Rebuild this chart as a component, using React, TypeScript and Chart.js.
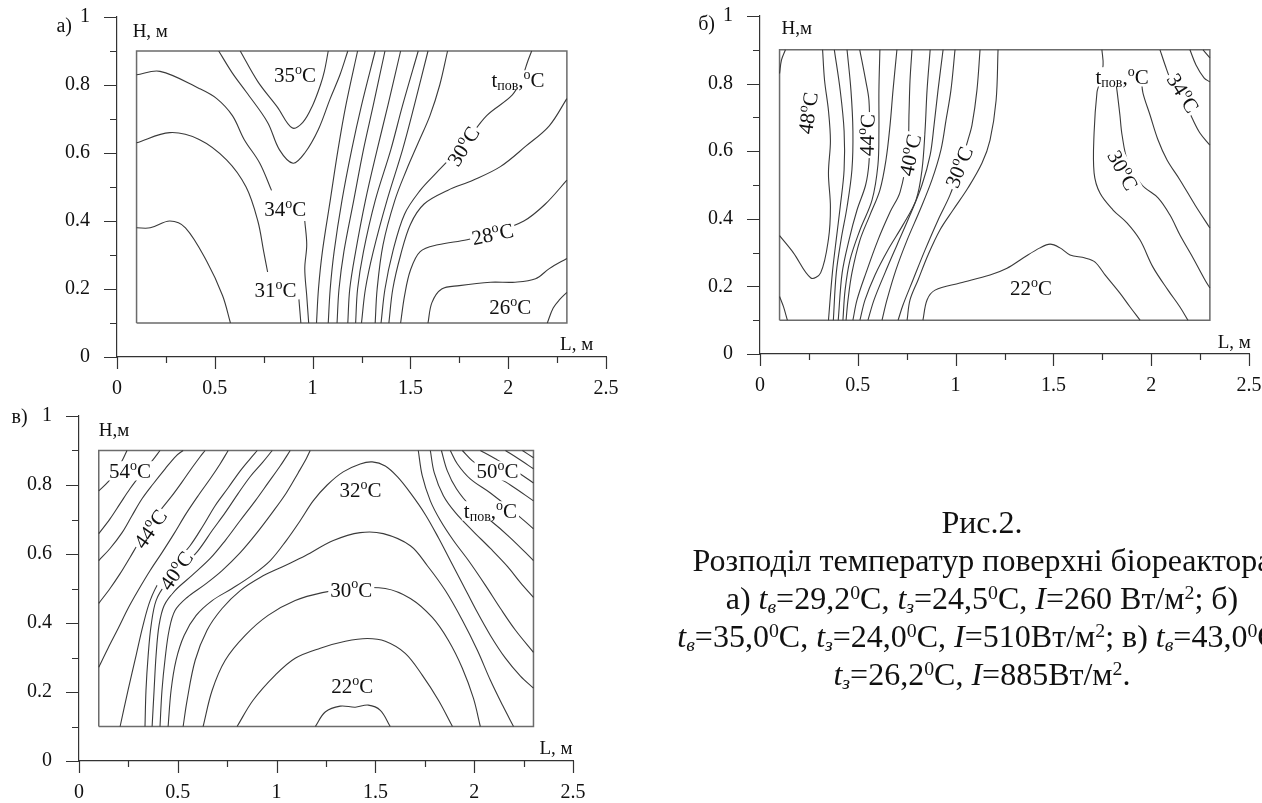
import React, { useEffect, useRef } from 'react';
import { Chart, registerables } from 'chart.js';
Chart.register(...registerables);

type P = [number, number];
type Seg = { t: string; k?: 'sup' | 'sub' };
type Lab = { segs: Seg[]; at: P; rot?: number; box?: boolean; align?: 'left' | 'center' | 'right'; size?: number };

// ---------- axis ticks ----------
const X_MAJOR = [0, 0.5, 1, 1.5, 2, 2.5];
const X_MINOR = [0.25, 0.75, 1.25, 1.75, 2.25];
const Y_MAJOR = [0, 0.2, 0.4, 0.6, 0.8, 1];
const Y_MINOR = [0.1, 0.3, 0.5, 0.7, 0.9];
const BOX_L = [0.1, 2.3];
const BOX_H = [0.1, 0.9];

// ---------- panel а ----------
const A_C1A: P[] = [[0.10,0.83],[0.22,0.84],[0.42,0.79],[0.51,0.76],[0.59,0.71],[0.65,0.64],[0.73,0.57],[0.79,0.49]];
const A_C1B: P[] = [[0.96,0.40],[0.97,0.33],[0.96,0.26],[0.97,0.18],[0.98,0.10]];
const A_C2A: P[] = [[0.10,0.63],[0.27,0.66],[0.42,0.64],[0.56,0.58],[0.66,0.50],[0.72,0.40],[0.75,0.31],[0.77,0.25]];
const A_C2B: P[] = [[0.93,0.17],[0.94,0.10]];
const A_C3: P[] = [[0.10,0.38],[0.17,0.38],[0.27,0.40],[0.35,0.38],[0.46,0.28],[0.54,0.18],[0.58,0.10]];
const A_VB: P[] = [[0.52,0.90],[0.59,0.835],[0.66,0.78],[0.77,0.69],[0.83,0.61],[0.90,0.57],[0.96,0.60],[1.03,0.67],[1.09,0.76],[1.14,0.83],[1.18,0.90]];
const A_VA: P[] = [[0.63,0.90],[0.72,0.81],[0.82,0.735],[0.895,0.674],[0.95,0.69],[1.00,0.74],[1.04,0.80],[1.06,0.84],[1.08,0.90]];
const A_B1: P[] = [[1.02,0.10],[1.03,0.20],[1.05,0.31],[1.09,0.46],[1.13,0.61],[1.17,0.74],[1.23,0.90]];
const A_B2: P[] = [[1.08,0.10],[1.09,0.20],[1.11,0.31],[1.15,0.46],[1.20,0.61],[1.25,0.74],[1.32,0.90]];
const A_B3: P[] = [[1.125,0.10],[1.135,0.20],[1.16,0.31],[1.21,0.46],[1.26,0.61],[1.31,0.74],[1.37,0.90]];
const A_B4: P[] = [[1.18,0.10],[1.19,0.20],[1.22,0.31],[1.27,0.46],[1.33,0.61],[1.385,0.74],[1.45,0.90]];
const A_B5: P[] = [[1.22,0.10],[1.23,0.20],[1.26,0.31],[1.32,0.46],[1.40,0.61],[1.46,0.74],[1.54,0.90]];
const A_B6: P[] = [[1.25,0.10],[1.27,0.20],[1.31,0.31],[1.38,0.46],[1.46,0.61],[1.52,0.74],[1.59,0.90]];
const A_B7: P[] = [[1.32,0.10],[1.33,0.20],[1.36,0.33],[1.42,0.46],[1.48,0.55],[1.54,0.63],[1.60,0.71],[1.65,0.80],[1.69,0.90]];
const A_C30: P[] = [[1.35,0.10],[1.37,0.20],[1.41,0.31],[1.47,0.42],[1.55,0.49],[1.63,0.54],[1.68,0.57],[1.78,0.63],[1.89,0.71],[2.02,0.77],[2.07,0.82],[2.10,0.87],[2.12,0.90]];
const A_RB: P[] = [[1.39,0.10],[1.41,0.20],[1.45,0.30],[1.50,0.39],[1.57,0.45],[1.69,0.49],[1.82,0.52],[1.96,0.56],[2.09,0.62],[2.21,0.68],[2.30,0.76]];
const A_RA: P[] = [[1.45,0.10],[1.47,0.18],[1.50,0.255],[1.55,0.31],[1.64,0.33],[1.79,0.345],[1.92,0.365],[2.08,0.40],[2.19,0.45],[2.30,0.52]];
const A_R26: P[] = [[1.59,0.10],[1.61,0.16],[1.66,0.20],[1.75,0.21],[1.91,0.22],[2.035,0.22],[2.14,0.23],[2.21,0.26],[2.30,0.29]];
const A_R25: P[] = [[2.20,0.10],[2.23,0.144],[2.265,0.17],[2.30,0.19]];

// ---------- panel б ----------
const B_TL: P[] = [[0.10,0.83],[0.11,0.87],[0.13,0.90]];
const B_BL: P[] = [[0.10,0.17],[0.12,0.14],[0.14,0.10]];
const B_LOBE: P[] = [[0.10,0.35],[0.17,0.30],[0.26,0.225],[0.31,0.24],[0.35,0.34],[0.36,0.435],[0.35,0.535],[0.36,0.63],[0.35,0.72],[0.33,0.81],[0.32,0.90]];
const B_G1: P[] = [[0.38,0.90],[0.41,0.78],[0.43,0.66],[0.43,0.545],[0.41,0.435],[0.39,0.34],[0.37,0.24],[0.35,0.10]];
const B_G2: P[] = [[0.445,0.90],[0.465,0.78],[0.475,0.66],[0.47,0.545],[0.445,0.435],[0.415,0.34],[0.39,0.24],[0.375,0.10]];
const B_G3: P[] = [[0.51,0.90],[0.54,0.81],[0.557,0.75],[0.56,0.65],[0.557,0.565],[0.54,0.50],[0.496,0.426],[0.455,0.337],[0.42,0.24],[0.40,0.10]];
const B_G4: P[] = [[0.613,0.90],[0.608,0.78],[0.608,0.66],[0.603,0.56],[0.573,0.456],[0.511,0.367],[0.46,0.278],[0.435,0.189],[0.424,0.10]];
const B_G5: P[] = [[0.70,0.90],[0.68,0.78],[0.665,0.678],[0.644,0.574],[0.613,0.485],[0.562,0.411],[0.511,0.337],[0.47,0.24],[0.45,0.16],[0.44,0.10]];
const B_G6: P[] = [[0.777,0.90],[0.767,0.81],[0.762,0.716],[0.755,0.60],[0.716,0.479],[0.665,0.42],[0.603,0.337],[0.542,0.24],[0.496,0.16],[0.475,0.10]];
const B_G7: P[] = [[0.87,0.90],[0.854,0.78],[0.844,0.663],[0.828,0.544],[0.798,0.456],[0.731,0.382],[0.654,0.308],[0.588,0.234],[0.537,0.16],[0.511,0.10]];
const B_G8: P[] = [[0.936,0.90],[0.91,0.78],[0.89,0.678],[0.87,0.589],[0.828,0.50],[0.767,0.411],[0.70,0.322],[0.639,0.24],[0.583,0.16],[0.552,0.10]];
const B_G9: P[] = [[0.997,0.90],[0.976,0.78],[0.951,0.692],[0.925,0.604],[0.879,0.515],[0.818,0.426],[0.752,0.337],[0.695,0.249],[0.649,0.16],[0.624,0.10]];
const B_G10: P[] = [[1.125,0.90],[1.109,0.78],[1.084,0.678],[1.063,0.633],[1.02,0.55],[0.971,0.47],[0.91,0.396],[0.844,0.308],[0.782,0.219],[0.731,0.145],[0.706,0.10]];
const B_G11: P[] = [[1.217,0.90],[1.207,0.75],[1.176,0.633],[1.135,0.565],[1.063,0.491],[0.987,0.426],[0.92,0.367],[0.859,0.293],[0.808,0.219],[0.767,0.16],[0.752,0.10]];
const B_22: P[] = [[0.833,0.10],[0.854,0.16],[0.895,0.189],[1.022,0.21],[1.176,0.234],[1.263,0.254],[1.345,0.284],[1.431,0.314],[1.483,0.325],[1.534,0.314],[1.585,0.293],[1.662,0.284],[1.713,0.272],[1.764,0.234],[1.84,0.18],[1.892,0.139],[1.943,0.10]];
const B_R1: P[] = [[1.748,0.90],[1.754,0.855],[1.735,0.80],[1.723,0.775],[1.708,0.654],[1.708,0.536],[1.738,0.476],[1.805,0.426],[1.876,0.388],[1.943,0.337],[2.009,0.257],[2.086,0.189],[2.147,0.139],[2.188,0.10]];
const B_R2: P[] = [[1.815,0.82],[1.825,0.78],[1.84,0.707],[1.851,0.648],[1.88,0.57],[1.953,0.50],[2.035,0.462],[2.096,0.411],[2.147,0.352],[2.214,0.284],[2.275,0.219],[2.30,0.195]];
const B_R3: P[] = [[1.95,0.81],[1.958,0.772],[1.994,0.707],[2.035,0.633],[2.081,0.574],[2.147,0.515],[2.224,0.441],[2.30,0.373]];
const B_R4: P[] = [[2.045,0.90],[2.071,0.855],[2.096,0.817],[2.16,0.76],[2.214,0.692],[2.249,0.654],[2.30,0.618]];
const B_R5: P[] = [[2.198,0.90],[2.229,0.855],[2.27,0.817],[2.30,0.805]];
const B_R6: P[] = [[2.265,0.90],[2.30,0.876]];

// ---------- panel в ----------
const C_E1: P[] = [[0.10,0.783],[0.147,0.809],[0.187,0.841],[0.218,0.87],[0.243,0.90]];
const C_E2: P[] = [[0.10,0.659],[0.157,0.702],[0.208,0.746],[0.258,0.789],[0.319,0.835],[0.37,0.87],[0.41,0.90]];
const C_E3: P[] = [[0.10,0.581],[0.157,0.616],[0.218,0.662],[0.268,0.711],[0.319,0.76],[0.375,0.803],[0.436,0.847],[0.491,0.884],[0.527,0.90]];
const C_E4: P[] = [[0.10,0.457],[0.157,0.50],[0.208,0.543],[0.258,0.59],[0.309,0.639],[0.36,0.682],[0.41,0.725],[0.471,0.769],[0.522,0.809],[0.572,0.85],[0.613,0.882],[0.638,0.90]];
const C_E5: P[] = [[0.10,0.272],[0.147,0.327],[0.198,0.384],[0.248,0.442],[0.299,0.494],[0.36,0.552],[0.42,0.604],[0.481,0.659],[0.542,0.717],[0.603,0.769],[0.664,0.818],[0.714,0.861],[0.755,0.90]];
const C_E6: P[] = [[0.208,0.10],[0.248,0.205],[0.289,0.306],[0.324,0.393],[0.36,0.465],[0.41,0.523],[0.486,0.575],[0.562,0.624],[0.628,0.682],[0.689,0.74],[0.755,0.792],[0.816,0.841],[0.866,0.876],[0.902,0.90]];
const C_E7: P[] = [[0.334,0.10],[0.339,0.205],[0.35,0.306],[0.365,0.393],[0.39,0.465],[0.441,0.514],[0.522,0.561],[0.603,0.61],[0.674,0.668],[0.74,0.72],[0.805,0.775],[0.866,0.824],[0.927,0.864],[0.978,0.90]];
const C_E8: P[] = [[0.37,0.10],[0.38,0.205],[0.39,0.306],[0.405,0.393],[0.431,0.451],[0.486,0.494],[0.572,0.538],[0.664,0.587],[0.74,0.639],[0.816,0.697],[0.892,0.754],[0.957,0.806],[1.018,0.855],[1.069,0.90]];
const C_E9: P[] = [[0.41,0.10],[0.42,0.205],[0.436,0.298],[0.456,0.379],[0.486,0.436],[0.547,0.474],[0.638,0.512],[0.724,0.552],[0.816,0.604],[0.897,0.659],[0.978,0.72],[1.049,0.777],[1.109,0.835],[1.15,0.876],[1.17,0.90]];
const C_A32: P[] = [[0.451,0.10],[0.466,0.205],[0.491,0.292],[0.532,0.364],[0.593,0.422],[0.674,0.465],[0.775,0.50],[0.876,0.538],[0.968,0.581],[1.049,0.639],[1.12,0.697],[1.185,0.754],[1.256,0.80],[1.337,0.838],[1.423,0.861],[1.484,0.867],[1.55,0.855],[1.611,0.824],[1.677,0.777],[1.753,0.714],[1.819,0.647],[1.879,0.581],[1.945,0.509],[2.011,0.436],[2.082,0.364],[2.158,0.298],[2.234,0.246],[2.30,0.211]];
const C_A2: P[] = [[0.527,0.10],[0.547,0.176],[0.588,0.292],[0.648,0.379],[0.724,0.442],[0.816,0.494],[0.917,0.532],[1.033,0.564],[1.145,0.595],[1.287,0.639],[1.423,0.662],[1.54,0.659],[1.677,0.624],[1.763,0.566],[1.854,0.494],[1.94,0.408],[2.016,0.321],[2.082,0.234],[2.143,0.162],[2.199,0.10]];
const C_T30: P[] = [[0.628,0.10],[0.674,0.205],[0.74,0.292],[0.841,0.364],[0.957,0.422],[1.094,0.465],[1.231,0.488],[1.373,0.50],[1.55,0.50],[1.677,0.471],[1.788,0.416],[1.869,0.35],[1.94,0.269],[1.996,0.182],[2.031,0.10]];
const C_A4: P[] = [[0.80,0.10],[0.881,0.176],[0.993,0.249],[1.094,0.298],[1.221,0.327],[1.348,0.347],[1.459,0.355],[1.55,0.347],[1.651,0.312],[1.737,0.249],[1.819,0.176],[1.89,0.10]];
const C_A22: P[] = [[1.196,0.10],[1.246,0.142],[1.322,0.159],[1.398,0.156],[1.464,0.162],[1.525,0.147],[1.575,0.10]];
const C_Q1: P[] = [[1.717,0.90],[1.737,0.827],[1.778,0.754],[1.829,0.697],[1.895,0.639],[1.971,0.581],[2.057,0.509],[2.133,0.442],[2.209,0.379],[2.30,0.315]];
const C_Q2: P[] = [[1.778,0.90],[1.798,0.835],[1.844,0.769],[1.905,0.72],[1.991,0.668],[2.082,0.616],[2.168,0.564],[2.234,0.517],[2.30,0.474]];
const C_Q3: P[] = [[1.834,0.90],[1.864,0.841],[1.91,0.789],[1.98,0.74],[2.082,0.697],[2.183,0.647],[2.30,0.581]];
const C_Q4: P[] = [[1.879,0.90],[1.915,0.861],[1.98,0.818],[2.082,0.777],[2.183,0.731],[2.30,0.673]];
const C_Q5: P[] = [[1.94,0.90],[1.991,0.87],[2.082,0.835],[2.183,0.80],[2.30,0.754]];
const C_Q6: P[] = [[2.031,0.90],[2.107,0.876],[2.193,0.847],[2.30,0.806]];
const C_Q7: P[] = [[2.158,0.90],[2.224,0.876],[2.30,0.847]];
const C_Q8: P[] = [[2.244,0.90],[2.30,0.879]];

// ---------- labels ----------
const deg = (n: string): Seg[] => [{ t: n }, { t: 'o', k: 'sup' }, { t: 'C' }];
const TPOV: Seg[] = [{ t: 't' }, { t: 'пов', k: 'sub' }, { t: ',' }, { t: 'o', k: 'sup' }, { t: 'C' }];

const A_LABELS: Lab[] = [
  { segs: deg('35'), at: [0.91, 0.83], box: true },
  { segs: deg('34'), at: [0.86, 0.435], box: true },
  { segs: deg('31'), at: [0.81, 0.197], box: true },
  { segs: deg('30'), at: [1.77, 0.62], rot: -58, box: true },
  { segs: TPOV, at: [2.05, 0.815], box: true },
  { segs: deg('28'), at: [1.92, 0.362], rot: -12, box: true },
  { segs: deg('26'), at: [2.01, 0.147], box: true },
  { segs: [{ t: 'H, м' }], at: [0.08, 0.96], align: 'left', size: 19 },
  { segs: [{ t: 'L, м' }], at: [2.265, 0.04], align: 'left', size: 19 },
  { segs: [{ t: 'а)' }], at: [-0.23, 0.975], align: 'right', size: 20 },
];
const B_LABELS: Lab[] = [
  { segs: deg('48'), at: [0.245, 0.713], rot: -82, box: true },
  { segs: deg('44'), at: [0.547, 0.648], rot: -88, box: true },
  { segs: deg('40'), at: [0.767, 0.589], rot: -78, box: true },
  { segs: deg('30'), at: [1.017, 0.553], rot: -68, box: true },
  { segs: TPOV, at: [1.851, 0.82], box: true },
  { segs: deg('34'), at: [2.163, 0.772], rot: 58, box: true },
  { segs: deg('30'), at: [1.856, 0.544], rot: 62, box: true },
  { segs: deg('22'), at: [1.385, 0.195], box: true },
  { segs: [{ t: 'H,м' }], at: [0.11, 0.965], align: 'left', size: 19 },
  { segs: [{ t: 'L, м' }], at: [2.34, 0.036], align: 'left', size: 19 },
  { segs: [{ t: 'б)' }], at: [-0.23, 0.98], align: 'right', size: 20 },
];
const C_LABELS: Lab[] = [
  { segs: deg('54'), at: [0.258, 0.841], box: true },
  { segs: deg('44'), at: [0.36, 0.673], rot: -55, box: true },
  { segs: deg('40'), at: [0.491, 0.552], rot: -55, box: true },
  { segs: deg('32'), at: [1.424, 0.786], box: true },
  { segs: deg('30'), at: [1.378, 0.497], box: true },
  { segs: deg('22'), at: [1.383, 0.217], box: true },
  { segs: deg('50'), at: [2.118, 0.841], box: true },
  { segs: TPOV, at: [2.082, 0.725], box: true },
  { segs: [{ t: 'H,м' }], at: [0.10, 0.96], align: 'left', size: 19 },
  { segs: [{ t: 'L, м' }], at: [2.33, 0.04], align: 'left', size: 19 },
  { segs: [{ t: 'в)' }], at: [-0.26, 1.0], align: 'right', size: 20 },
];

const A_LINES = [A_C1A, A_C1B, A_C2A, A_C2B, A_C3, A_VB, A_VA, A_B1, A_B2, A_B3, A_B4, A_B5, A_B6, A_B7, A_C30, A_RB, A_RA, A_R26, A_R25];
const B_LINES = [B_TL, B_BL, B_LOBE, B_G1, B_G2, B_G3, B_G4, B_G5, B_G6, B_G7, B_G8, B_G9, B_G10, B_G11, B_22, B_R1, B_R2, B_R3, B_R4, B_R5, B_R6];
const C_LINES = [C_E1, C_E2, C_E3, C_E4, C_E5, C_E6, C_E7, C_E8, C_E9, C_A32, C_A2, C_T30, C_A4, C_A22, C_Q1, C_Q2, C_Q3, C_Q4, C_Q5, C_Q6, C_Q7, C_Q8];

// ---------- layout / style ----------
const FONT = '"Liberation Serif", "Times New Roman", serif';
const LINE = '#3a3a3a';
const BOXC = '#6b6b6b';
const AXIS = '#333333';
const TEXT = '#111111';
const CLEAR = 'rgba(0,0,0,0)';

type Panel = { left: number; top: number; w: number; h: number; yW: number; xH: number; padT: number; padR: number; lines: P[][]; labels: Lab[] };
const PANELS: Panel[] = [
  { left: 30, top: 0, w: 606, h: 400, yW: 87, xH: 43, padT: 17, padR: 30, lines: A_LINES, labels: A_LABELS },
  { left: 680, top: 0, w: 585, h: 397, yW: 80, xH: 43, padT: 16, padR: 16, lines: B_LINES, labels: B_LABELS },
  { left: 0, top: 400, w: 603, h: 403, yW: 79, xH: 42, padT: 16, padR: 30, lines: C_LINES, labels: C_LABELS },
];

function drawLabel(ctx: CanvasRenderingContext2D, lab: Lab, px: number, py: number) {
  const size = lab.size ?? 21;
  const small = Math.round(size * 0.66);
  let w = 0;
  const widths = lab.segs.map((s) => {
    ctx.font = `${s.k ? small : size}px ${FONT}`;
    const m = ctx.measureText(s.t).width;
    w += m;
    return m;
  });
  ctx.save();
  ctx.translate(px, py);
  ctx.rotate(((lab.rot ?? 0) * Math.PI) / 180);
  const x0 = lab.align === 'left' ? 0 : lab.align === 'right' ? -w : -w / 2;
  if (lab.box) {
    ctx.fillStyle = '#ffffff';
    ctx.fillRect(x0 - 2, -size * 0.46, w + 4, size * 0.92);
  }
  ctx.fillStyle = TEXT;
  ctx.textAlign = 'left';
  ctx.textBaseline = 'alphabetic';
  const base = size * 0.34;
  let x = x0;
  lab.segs.forEach((s, i) => {
    ctx.font = `${s.k ? small : size}px ${FONT}`;
    const dy = s.k === 'sup' ? -size * 0.4 : s.k === 'sub' ? size * 0.15 : 0;
    ctx.fillText(s.t, x, base + dy);
    x += widths[i];
  });
  ctx.restore();
}

function overlay(panel: Panel) {
  return {
    id: 'overlay',
    afterDraw(chart: any) {
      const { ctx } = chart;
      const xs = chart.scales.x;
      const ys = chart.scales.y;
      const x0 = xs.getPixelForValue(0);
      const y0 = ys.getPixelForValue(0);
      ctx.save();
      ctx.strokeStyle = AXIS;
      ctx.lineWidth = 1.2;
      ctx.beginPath();
      Y_MAJOR.forEach((v) => { const p = Math.round(ys.getPixelForValue(v)) + 0.5; ctx.moveTo(x0 - 13, p); ctx.lineTo(x0, p); });
      Y_MINOR.forEach((v) => { const p = Math.round(ys.getPixelForValue(v)) + 0.5; ctx.moveTo(x0 - 7, p); ctx.lineTo(x0, p); });
      X_MAJOR.forEach((v) => { const p = Math.round(xs.getPixelForValue(v)) + 0.5; ctx.moveTo(p, y0); ctx.lineTo(p, y0 + 12); });
      X_MINOR.forEach((v) => { const p = Math.round(xs.getPixelForValue(v)) + 0.5; ctx.moveTo(p, y0); ctx.lineTo(p, y0 + 6); });
      ctx.stroke();
      ctx.restore();
      panel.labels.forEach((lab) => drawLabel(ctx, lab, xs.getPixelForValue(lab.at[0]), ys.getPixelForValue(lab.at[1])));
    },
  };
}

const fmt = (v: any) => String(Math.round(Number(v) * 100) / 100);

function build(canvas: HTMLCanvasElement, panel: Panel) {
  const boxPts = [
    { x: BOX_L[0], y: BOX_H[0] }, { x: BOX_L[1], y: BOX_H[0] }, { x: BOX_L[1], y: BOX_H[1] },
    { x: BOX_L[0], y: BOX_H[1] }, { x: BOX_L[0], y: BOX_H[0] },
  ];
  const datasets: any[] = panel.lines.map((pts) => ({
    data: pts.map(([x, y]) => ({ x, y })),
    showLine: true, borderColor: LINE, borderWidth: 1.1, pointRadius: 0, pointHoverRadius: 0,
    tension: 0.35, fill: false,
  }));
  datasets.push({ data: boxPts, showLine: true, borderColor: BOXC, borderWidth: 1.5, pointRadius: 0, tension: 0, fill: false });
  const tickFont = { family: FONT, size: 20 };
  return new Chart(canvas, {
    type: 'scatter',
    data: { datasets },
    options: {
      responsive: false,
      maintainAspectRatio: false,
      animation: false,
      events: [],
      layout: { padding: { left: 0, right: panel.padR, top: panel.padT, bottom: 0 } },
      plugins: { legend: { display: false }, tooltip: { enabled: false } },
      scales: {
        x: {
          type: 'linear', min: 0, max: 2.5,
          grid: { display: true, drawOnChartArea: false, drawTicks: true, tickLength: 18, tickColor: CLEAR, color: CLEAR },
          border: { display: true, color: AXIS, width: 1.2 },
          ticks: { stepSize: 0.5, autoSkip: false, maxRotation: 0, minRotation: 0, padding: 2, color: TEXT, font: tickFont, callback: fmt },
          afterFit: (s: any) => { s.height = panel.xH; },
        },
        y: {
          type: 'linear', min: 0, max: 1,
          grid: { display: true, drawOnChartArea: false, drawTicks: true, tickLength: 23, tickColor: CLEAR, color: CLEAR },
          border: { display: true, color: AXIS, width: 1.2 },
          ticks: { stepSize: 0.2, autoSkip: false, padding: 4, color: TEXT, font: tickFont, callback: fmt },
          afterFit: (s: any) => { s.width = panel.yW; },
        },
      },
    } as any,
    plugins: [overlay(panel)],
  });
}

function PanelCanvas({ p }: { p: Panel }) {
  const ref = useRef<HTMLCanvasElement>(null);
  useEffect(() => {
    const c = build(ref.current as HTMLCanvasElement, p);
    return () => c.destroy();
  }, [p]);
  return (
    <canvas ref={ref} width={p.w} height={p.h}
      style={{ position: 'absolute', left: p.left, top: p.top, width: p.w, height: p.h }} />
  );
}

const supS: React.CSSProperties = { fontSize: '0.62em', position: 'relative', top: '-0.5em', verticalAlign: 'baseline', lineHeight: 0 };
const subS: React.CSSProperties = { fontSize: '0.62em', position: 'relative', top: '0.22em', verticalAlign: 'baseline', lineHeight: 0 };
const Sup = ({ c }: { c: string }) => <span style={supS}>{c}</span>;
const TV = () => <i>t<span style={subS}>в</span></i>;
const TZ = () => <i>t<span style={subS}>з</span></i>;

export default function App() {
  return (
    <div style={{ position: 'absolute', left: 0, top: 0, width: 1262, height: 803, overflow: 'hidden', background: '#fff' }}>
      {PANELS.map((p, i) => <PanelCanvas key={i} p={p} />)}
      <div style={{
        position: 'absolute', left: 982 - 450, width: 900, top: 503, textAlign: 'center',
        fontFamily: FONT, fontSize: 32, lineHeight: '38px', whiteSpace: 'nowrap', color: TEXT,
      }}>
        <div>Рис.2.</div>
        <div>Розподіл температур поверхні біореактора</div>
        <div>а) <TV />=29,2<Sup c="0" />C, <TZ />=24,5<Sup c="0" />C, <i>I</i>=260 Вт/м<Sup c="2" />; б)</div>
        <div><TV />=35,0<Sup c="0" />C, <TZ />=24,0<Sup c="0" />C, <i>I</i>=510Вт/м<Sup c="2" />; в) <TV />=43,0<Sup c="0" />C,</div>
        <div><TZ />=26,2<Sup c="0" />C, <i>I</i>=885Вт/м<Sup c="2" />.</div>
      </div>
    </div>
  );
}
